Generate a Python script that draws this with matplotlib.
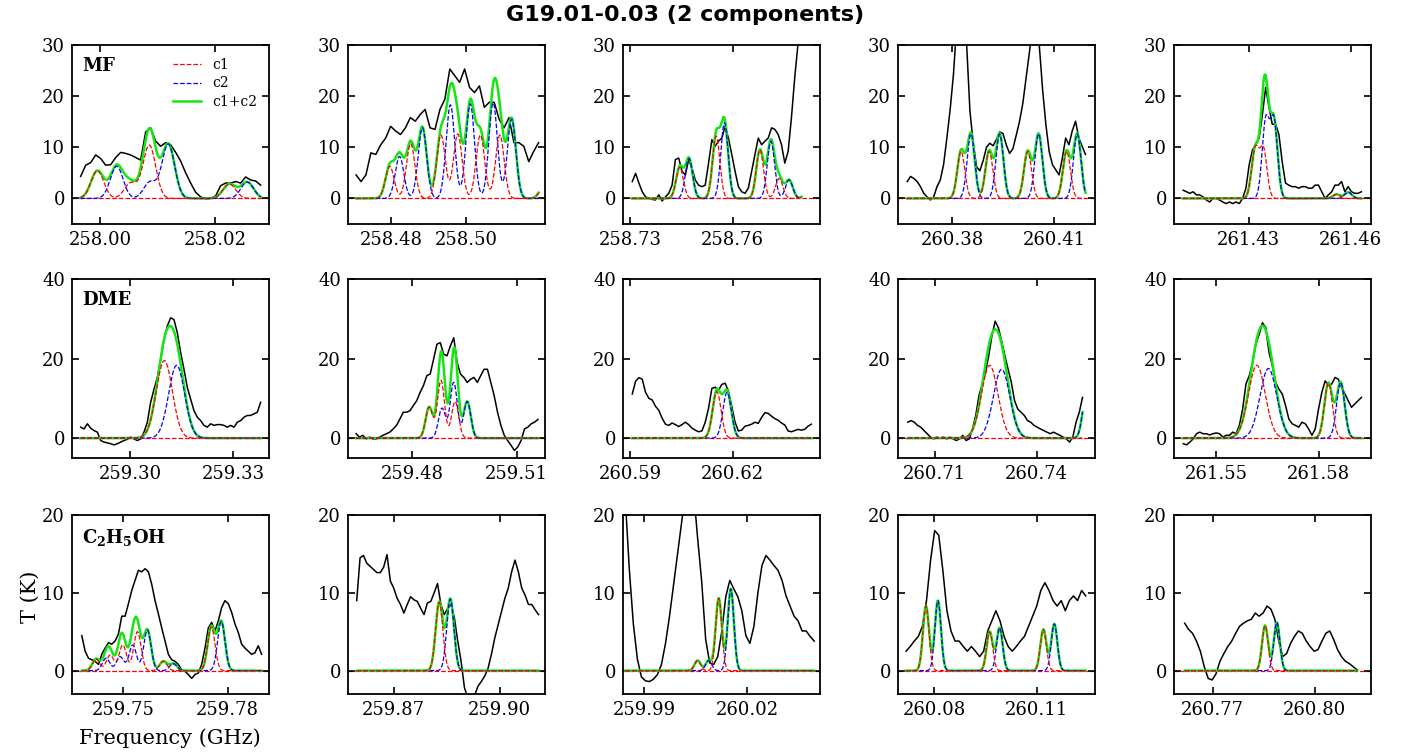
import numpy as np
import matplotlib
matplotlib.use('Agg')
import matplotlib.pyplot as plt

plt.rcParams['font.family'] = 'DejaVu Serif'
plt.rcParams['mathtext.fontset'] = 'dejavuserif'

# ---- observed spectra: channel range (GHz) and brightness T (K) ----
# ---- fitted components: (centre GHz, peak K, FWHM GHz) ----

# MF
mf1_range = (257.99664, 258.02794)
mf1_T = [4.3, 6.5, 7.0, 8.5, 7.8, 6.5, 6.6, 8.0, 9.0, 8.8, 8.5, 8.0, 7.5, 13.0, 13.8, 11.2, 10.2,
         10.9, 10.5, 9.0, 7.3, 5.0, 3.0, 1.2, 0.3, -0.1, 0.0, 0.5, 2.5, 3.0, 3.0, 3.3, 3.0, 4.2,
         3.6, 3.4, 2.6]
mf1_c1 = [(257.99954, 5.4, 0.0026), (258.00533, 3.0, 0.0026), (258.00858, 10.4, 0.0026),
          (258.02250, 2.8, 0.0026)]
mf1_c2 = [(258.00290, 6.3, 0.0026), (258.00870, 3.2, 0.0026), (258.01188, 10.6, 0.0026),
          (258.02560, 3.2, 0.0026)]

mf2_range = (258.47054, 258.51937)
mf2_T = [4.6, 3.3, 4.6, 8.9, 8.6, 10.5, 11.8, 14.1, 13.2, 12.5, 13.8, 15.8, 15.1, 16.4, 17.4,
         13.8, 13.5, 17.4, 19.4, 25.3, 24.0, 22.7, 25.3, 21.7, 20.7, 22.0, 17.8, 18.8, 18.8,
         15.5, 13.8, 15.8, 10.9, 10.9, 10.2, 7.2, 9.2, 10.9]
mf2_c1 = [(258.47955, 6.3, 0.0027), (258.48514, 10.7, 0.0027), (258.49324, 12.4, 0.0027),
          (258.49775, 12.6, 0.0027), (258.50378, 12.4, 0.0027), (258.50901, 12.4, 0.0027),
          (258.52070, 2.2, 0.0027)]
mf2_c2 = [(258.48216, 8.2, 0.0027), (258.48829, 13.8, 0.0027), (258.49577, 18.3, 0.0027),
          (258.50108, 18.5, 0.0027), (258.50721, 18.7, 0.0027), (258.51216, 15.5, 0.0027)]

mf3_range = (258.73068, 258.78003)
mf3_T = [3.3, 4.9, 3.0, 1.3, 0.3, 0.0, -0.2, -0.3, 0.7, -0.5, 0.3, 1.0, 2.6, 7.6, 7.9, 5.3,
         4.6, 7.6, 5.9, 3.6, 2.6, 2.3, 2.6, 6.9, 11.5, 10.2, 11.2, 11.8, 14.1, 11.8, 8.6, 5.3,
         2.3, 1.3, 1.0, 2.0, 5.3, 8.6, 11.8, 10.5, 11.2, 11.8, 13.8, 13.5, 12.5, 10.5, 6.9,
         9.2, 15.8, 23.7, 30.4, 36.0]
mf3_c1 = [(258.74452, 6.1, 0.0025), (258.75516, 12.2, 0.0025), (258.76793, 9.5, 0.0025),
          (258.77355, 3.9, 0.0025), (258.78226, 3.0, 0.0025)]
mf3_c2 = [(258.74723, 7.8, 0.0025), (258.75758, 14.8, 0.0025), (258.77113, 11.2, 0.0025),
          (258.77645, 3.6, 0.0025)]

mf4_range = (260.36680, 260.41922)
mf4_T = [3.3, 4.3, 3.9, 3.3, 2.3, 1.0, 0.3, -0.3, 0.3, 2.3, 3.6, 6.6, 11.8, 17.4, 24.3, 34, 38,
         36, 30, 17, 10.8, 6.2, 5.4, 7.4, 10.0, 10.8, 10.3, 11.5, 13.0, 12.7, 10.5, 8.8, 9.7,
         12.3, 15.0, 18.5, 23.5, 28.5, 34, 36, 30, 21.4, 14.5, 9.2, 6.6, 5.6, 4.6, 7.9, 11.8,
         10.5, 13.2, 15.1, 11.8, 10.2, 8.6]
mf4_c1 = [(260.38262, 9.2, 0.0026), (260.39087, 9.2, 0.0026), (260.40223, 9.2, 0.0026),
          (260.41369, 9.2, 0.0026)]
mf4_c2 = [(260.38553, 12.6, 0.0026), (260.39398, 12.6, 0.0026), (260.40544, 12.6, 0.0026),
          (260.41680, 12.6, 0.0026)]

mf5_range = (261.41078, 261.46320)
mf5_T = [1.6, 1.3, 1.0, 1.3, 0.7, 0.7, 0.3, -0.3, -0.7, 0.0, 0.0, -0.3, -0.7, -1.0, -0.7, -1.0,
         -0.7, -1.0, 0.0, 2.0, 6.6, 9.5, 10.5, 11.8, 16.4, 21.7, 17.8, 14.5, 14.5, 12.5, 7.2,
         3.0, 2.6, 2.3, 2.3, 2.0, 2.3, 2.3, 2.0, 2.0, 2.6, 2.6, 1.3, 0.0, 0.7, 1.3, 2.6, 2.6,
         3.3, 1.3, 2.3, 1.3, 1.0, 1.0, 1.3]
mf5_c1 = [(261.43194, 9.5, 0.0025), (261.43437, 9.5, 0.0025), (261.45592, 0.8, 0.0025)]
mf5_c2 = [(261.43505, 15.0, 0.0025), (261.43748, 15.0, 0.0025), (261.45932, 1.2, 0.0025)]

# DME
dme1_range = (259.28568, 259.33793)
dme1_T = [2.75, 2.3, 3.6, 2.5, 1.9, 1.5, -0.6, -1.0, -1.2, -1.4, -1.7, -1.4, -1.0, -0.6, -0.3,
          0.25, -0.2, -0.6, -0.2, 1.5, 4.0, 9.0, 12.3, 15.25, 19.8, 24.8, 28.2, 30.25, 29.8,
          26.5, 21.5, 17.3, 12.75, 9.8, 6.9, 5.25, 4.4, 3.2, 2.75, 3.6, 3.2, 3.4, 3.4, 3.2,
          2.75, 3.2, 2.75, 4.0, 4.4, 5.25, 5.7, 5.7, 6.1, 6.5, 9.0]
dme1_c1 = [(259.30997, 19.5, 0.0055)]
dme1_c2 = [(259.31355, 18.3, 0.0055)]

dme2_range = (259.46384, 259.51610)
dme2_T = [1.1, 0.25, 0.7, -0.2, 0.25, -0.2, -0.2, 0.25, 0.7, 1.1, 1.5, 2.3, 3.2, 4.8, 6.5, 6.5,
          6.9, 8.2, 9.4, 11.5, 13.2, 15.7, 16.1, 19.8, 23.6, 24.0, 21.1, 20.7, 23.2, 25.25,
          19.0, 16.1, 15.25, 14.0, 14.8, 15.25, 14.0, 15.7, 17.3, 17.3, 14.0, 10.7, 6.5, 3.2,
          0.7, -0.6, -1.8, -3.1, -2.25, -0.6, 2.3, 2.75, 3.6, 4.0, 4.7]
dme2_c1 = [(259.48484, 7.8, 0.0024), (259.48823, 14.5, 0.0024), (259.49229, 9.2, 0.0024)]
dme2_c2 = [(259.48852, 7.5, 0.0024), (259.49190, 14.0, 0.0024), (259.49577, 9.2, 0.0024)]

dme3_range = (260.59068, 260.64293)
dme3_T = [11.1, 14.3, 15.2, 14.8, 11.5, 10.0, 9.6, 8.0, 7.0, 5.0, 3.5, 3.2, 3.8, 3.4, 2.9, 3.4,
          4.0, 3.4, 2.5, 2.0, 1.6, 1.8, 4.0, 7.5, 12.5, 12.8, 12.0, 13.5, 13.8, 11.8, 8.0, 4.0,
          1.8, 2.0, 3.0, 3.2, 3.5, 4.0, 3.7, 5.2, 6.4, 6.2, 5.5, 4.9, 4.5, 3.8, 3.3, 1.8, 1.6,
          1.9, 2.2, 2.0, 2.2, 3.0, 3.5]
dme3_c1 = [(260.61535, 11.7, 0.0029)]
dme3_c2 = [(260.61835, 11.5, 0.0029)]

dme4_range = (260.70210, 260.75352)
dme4_T = [4.0, 4.4, 4.0, 3.2, 2.75, 1.9, 1.1, 0.25, -0.2, 0.25, 0.0, 0.25, -0.2, 0.25, -0.2,
          -0.6, -0.2, 0.7, -0.6, -0.2, 2.3, 5.7, 10.7, 13.6, 16.5, 20.7, 25.7, 29.4, 27.75,
          24.4, 20.7, 17.3, 14.0, 9.4, 7.3, 6.5, 5.7, 4.4, 4.0, 3.2, 2.75, 2.3, 1.9, 1.5, 1.1,
          1.5, 1.1, 0.7, 0.25, -0.2, -1.0, 0.25, 4.0, 6.5, 10.25]
dme4_c1 = [(260.72619, 18.3, 0.0057)]
dme4_c2 = [(260.72971, 17.3, 0.0057), (260.75450, 10.0, 0.0025)]

dme5_range = (261.54032, 261.59258)
dme5_T = [-1.4, -1.7, -1.0, -0.2, 1.1, 1.5, 1.1, 1.1, 0.8, 1.1, 1.3, 1.1, 0.25, 0.7, 0.7, 1.5,
          1.1, 3.2, 7.3, 13.6, 15.7, 19.0, 23.6, 26.1, 29.0, 27.75, 21.5, 18.2, 14.0, 12.3,
          11.1, 8.2, 4.8, 3.6, 3.2, 2.75, 4.0, 3.6, 2.3, 0.7, 2.3, 7.3, 11.5, 14.4, 13.2, 13.6,
          15.25, 14.8, 12.75, 11.1, 9.4, 7.75, 8.6, 9.4, 10.25]
dme5_c1 = [(261.56190, 18.3, 0.0058), (261.58290, 13.8, 0.0028)]
dme5_c2 = [(261.56529, 17.5, 0.0058), (261.58648, 14.0, 0.0028)]

# C2H5OH
eth1_range = (259.73802, 259.78978)
eth1_T = [4.5, 2.5, 1.6, 1.4, 1.2, 0.8, 2.1, 2.9, 3.6, 3.4, 3.8, 4.7, 7.0, 7.0, 8.6, 10.3, 11.6,
          12.9, 12.7, 13.1, 12.7, 11.1, 9.0, 7.3, 5.5, 3.8, 2.1, 1.4, 1.2, 0.8, 0.1, -0.1, -0.5,
          -1.0, -0.5, -0.3, 0.8, 2.9, 5.5, 6.2, 5.1, 6.4, 8.1, 9.0, 8.6, 7.5, 6.0, 4.9, 3.4,
          2.9, 2.5, 2.1, 2.3, 3.2, 2.1]
eth1_c1 = [(259.74214, 1.5, 0.0025), (259.74617, 2.0, 0.0025), (259.74981, 3.3, 0.0025),
           (259.75403, 5.0, 0.0025), (259.76150, 1.2, 0.0025), (259.77530, 5.6, 0.0025)]
eth1_c2 = [(259.74502, 1.6, 0.0025), (259.74904, 1.8, 0.0025), (259.75268, 3.3, 0.0025),
           (259.75690, 5.2, 0.0025), (259.76438, 0.9, 0.0025), (259.77818, 6.3, 0.0025)]

eth2_range = (259.85952, 259.91095)
eth2_T = [9.0, 14.5, 14.8, 13.8, 13.4, 13.0, 12.6, 12.6, 13.3, 14.9, 11.5, 10.6, 9.3, 8.5, 7.4,
          8.5, 9.5, 9.1, 8.9, 8.0, 7.2, 8.7, 8.9, 10.0, 11.2, 8.5, 7.2, 8.0, 8.5, 6.8, 3.8, 1.2,
          -2.2, -3.5, -3.5, -3.2, -2.0, -1.4, -0.7, 0.3, 2.1, 4.2, 5.9, 7.6, 9.3, 10.6, 12.7,
          14.2, 12.7, 10.6, 9.7, 8.5, 8.5, 7.8, 7.2]
eth2_c1 = [(259.88286, 8.8, 0.0024)]
eth2_c2 = [(259.88600, 9.2, 0.0024)]

eth3_range = (259.98461, 260.03937)
eth3_T = [22, 13, 6, 1.5, -0.8, -1.3, -1.4, -1.1, -0.5, 0.8, 3.5, 7.0, 11, 15, 19, 23, 25, 23,
          17, 11.5, 4, 1.0, 0.8, 1.8, 5, 9.5, 11.6, 10.5, 9.5, 7.7, 4.5, 3.5, 5.7, 10, 13.5,
          14.8, 14.2, 13.5, 12.9, 11.6, 9.6, 8.3, 7.0, 6.4, 5.1, 5.1, 4.4, 3.8]
eth3_c1 = [(260.00558, 1.3, 0.0021), (260.01170, 9.3, 0.0021)]
eth3_c2 = [(260.00879, 1.3, 0.0021), (260.01520, 10.5, 0.0021)]

eth4_range = (260.07170, 260.12430)
eth4_T = [2.5, 3.1, 3.8, 4.4, 5.7, 9.0, 14.2, 18.0, 17.4, 12.9, 7.7, 5.1, 3.8, 3.8, 3.1, 2.5,
          3.1, 2.5, 1.8, 2.5, 5.1, 6.4, 7.7, 6.4, 4.4, 3.1, 2.5, 3.1, 3.8, 4.4, 5.7, 7.0, 8.3,
          10.3, 11.3, 10.3, 9.0, 8.3, 9.0, 7.7, 9.0, 9.6, 9.0, 10.3, 9.6]
eth4_c1 = [(260.07752, 8.3, 0.0021), (260.09617, 5.0, 0.0021), (260.11190, 5.3, 0.0021)]
eth4_c2 = [(260.08102, 9.0, 0.0021), (260.09908, 5.5, 0.0021), (260.11510, 6.0, 0.0021)]

eth5_range = (260.76178, 260.81254)
eth5_T = [6.1, 5.3, 4.8, 3.8, 2.5, 0.5, -1.0, -1.2, -0.4, 1.2, 2.2, 3.1, 3.8, 4.8, 5.7, 6.1,
          6.4, 6.6, 7.4, 7.0, 7.4, 8.3, 7.9, 6.6, 3.8, 1.8, 2.2, 3.5, 4.4, 5.1, 4.8, 3.8, 3.1,
          2.5, 2.7, 3.8, 4.8, 5.1, 4.0, 2.7, 1.8, 1.2, 0.9, 0.5, 0.1]
eth5_c1 = [(260.78543, 5.8, 0.0021)]
eth5_c2 = [(260.78889, 6.2, 0.0021)]

molecules = ['MF', 'DME', r'$\mathbf{C_2H_5OH}$']

# axis settings
xlims = [[(257.99513, 258.02939), (258.46838, 258.52108), (258.72797, 258.78546),
          (260.36407, 260.42203), (261.40807, 261.46603)],
         [(259.28316, 259.34036), (259.46151, 259.51813), (260.58797, 260.64546),
          (260.69922, 260.75719), (261.53760, 261.59539)],
         [(259.73520, 259.79191), (259.85706, 259.91277), (259.98394, 260.04106),
          (260.06933, 260.12702), (260.75864, 260.81660)]]
xticks = [[(258.00, 258.02), (258.48, 258.50), (258.73, 258.76), (260.38, 260.41), (261.43, 261.46)],
          [(259.30, 259.33), (259.48, 259.51), (260.59, 260.62), (260.71, 260.74), (261.55, 261.58)],
          [(259.75, 259.78), (259.87, 259.90), (259.99, 260.02), (260.08, 260.11), (260.77, 260.80)]]
ylims = [(-5, 30), (-5, 40), (-3, 20)]
yticks = [[0, 10, 20, 30], [0, 20, 40], [0, 10, 20]]

panels = [
    [(mf1_range, mf1_T, mf1_c1, mf1_c2), (mf2_range, mf2_T, mf2_c1, mf2_c2),
     (mf3_range, mf3_T, mf3_c1, mf3_c2), (mf4_range, mf4_T, mf4_c1, mf4_c2),
     (mf5_range, mf5_T, mf5_c1, mf5_c2)],
    [(dme1_range, dme1_T, dme1_c1, dme1_c2), (dme2_range, dme2_T, dme2_c1, dme2_c2),
     (dme3_range, dme3_T, dme3_c1, dme3_c2), (dme4_range, dme4_T, dme4_c1, dme4_c2),
     (dme5_range, dme5_T, dme5_c1, dme5_c2)],
    [(eth1_range, eth1_T, eth1_c1, eth1_c2), (eth2_range, eth2_T, eth2_c1, eth2_c2),
     (eth3_range, eth3_T, eth3_c1, eth3_c2), (eth4_range, eth4_T, eth4_c1, eth4_c2),
     (eth5_range, eth5_T, eth5_c1, eth5_c2)],
]


def gauss_sum(f, comps):
    out = np.zeros_like(f)
    for f0, tpk, fw in comps:
        out += tpk * np.exp(-4.0 * np.log(2.0) * (f - f0) ** 2 / fw ** 2)
    return out


W, H = 1411, 755
fig = plt.figure(figsize=(W / 100, H / 100), dpi=100)

lefts = [72, 348, 623, 898, 1174]
tops = [45, 279, 515]
aw, ah = 197, 179

green = '#14e614'

for r in range(3):
    for c in range(5):
        ax = fig.add_axes([lefts[c] / W, 1 - (tops[r] + ah) / H, aw / W, ah / H])
        rng, T, c1, c2 = panels[r][c]
        f_obs = np.linspace(rng[0], rng[1], len(T))
        ax.plot(f_obs, T, color='k', lw=1.1, zorder=1)

        f = np.linspace(rng[0], rng[1], 800)
        m1 = gauss_sum(f, c1)
        m2 = gauss_sum(f, c2)
        ax.axhline(0, color='red', ls='--', lw=0.9, zorder=1.5)
        ax.plot(f, m1 + m2, color=green, lw=1.8, zorder=2, label='c1+c2')
        ax.plot(f, m2, color='blue', ls='--', lw=0.9, zorder=3, label='c2')
        ax.plot(f, m1, color='red', ls='--', lw=0.9, zorder=4, label='c1')

        ax.set_xlim(xlims[r][c])
        ax.set_ylim(ylims[r])
        ax.set_xticks(xticks[r][c])
        ax.set_xticklabels(['%.2f' % v for v in xticks[r][c]])
        ax.set_yticks(yticks[r])
        ax.tick_params(direction='in', top=True, right=True, length=5, width=1.2,
                       labelsize=13, pad=5)
        for sp in ax.spines.values():
            sp.set_linewidth(1.3)

        if c == 0:
            ax.text(0.05, 0.935, molecules[r], transform=ax.transAxes, va='top', ha='left',
                    fontsize=13, fontweight='bold')
        if r == 0 and c == 0:
            h, l = ax.get_legend_handles_labels()
            ax.legend([h[2], h[1], h[0]], [l[2], l[1], l[0]], loc='upper left',
                      bbox_to_anchor=(0.45, 1.0), frameon=False, fontsize=10,
                      handlelength=2.0, handletextpad=0.8, labelspacing=0.35)

fig.text(685 / W, 1 - 15 / H, 'G19.01-0.03 (2 components)', ha='center', va='center',
         fontsize=16, fontweight='bold', family='DejaVu Sans')
fig.text(30 / W, 1 - 597 / H, 'T (K)', rotation=90, ha='center', va='center', fontsize=15)
fig.text(170 / W, 1 - 738 / H, 'Frequency (GHz)', ha='center', va='center', fontsize=15)

fig.savefig('out.png', dpi=100)
